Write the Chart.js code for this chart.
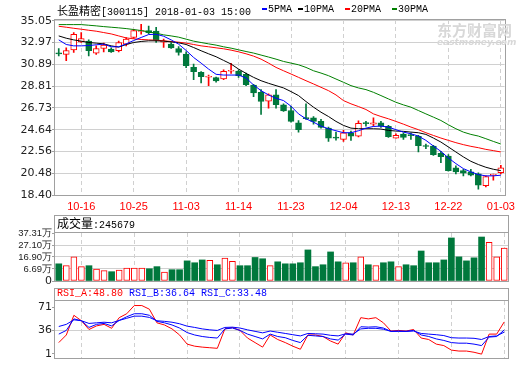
<!DOCTYPE html>
<html>
<head>
<meta charset="utf-8">
<script src="https://cdn.jsdelivr.net/npm/chart.js@4.4.0/dist/chart.umd.min.js"></script>
<style>
  body { margin: 0; background: #fff; }
  #wrap { position: relative; width: 520px; height: 365px; overflow: hidden; }
  .pane { position: absolute; left: 0; width: 520px; }
  .txt { position: absolute; white-space: pre; font-family: "Liberation Mono", monospace; font-size: 10px; line-height: 12px; color: #000; }
  .cjk { font-family: "Noto Sans CJK SC", sans-serif; }
  .mk { display: inline-block; width: 5px; height: 2px; vertical-align: middle; margin-right: 1px; }
</style>
</head>
<body>
<div id="wrap">
  <div class="pane" style="top:0;height:214px"><canvas id="kChart"></canvas></div>
  <div class="pane" style="top:214px;height:74px"><canvas id="volChart"></canvas></div>
  <div class="pane" style="top:288px;height:77px"><canvas id="rsiChart"></canvas></div>

  <div class="txt" style="left:57px;top:4px"><span class="cjk" style="font-size:11px">长盈精密</span>[300115] 2018-01-03 15:00</div>
  <div class="txt" style="left:262px;top:4px"><span class="mk" style="background:#0000ff"></span>5PMA</div>
  <div class="txt" style="left:298px;top:4px"><span class="mk" style="background:#000"></span>10PMA</div>
  <div class="txt" style="left:345px;top:4px"><span class="mk" style="background:#ff0000"></span>20PMA</div>
  <div class="txt" style="left:392px;top:4px"><span class="mk" style="background:#008000"></span>30PMA</div>

  <div class="txt" style="left:437px;top:21px;font-family:'Noto Sans CJK SC';font-weight:bold;font-size:15px;line-height:17px;color:#d8d8d8">东方财富网</div>
  <div class="txt" style="left:437px;top:37px;font-family:'DejaVu Sans';font-style:italic;font-weight:bold;font-size:9px;line-height:10px;color:#d8d8d8">eastmoney.com</div>

  <div class="txt" style="left:57px;top:216px;line-height:14px"><span class="cjk" style="font-size:12px">成交量</span>:245679</div>
  <div class="txt" id="volZero" style="left:45px;top:275px;font-family:'DejaVu Sans';font-size:11px;color:#222">0</div>
  <div class="txt" style="left:57px;top:288px"><span style="color:#ff0000">RSI_A:48.80</span> <span style="color:#0000ff">RSI_B:36.64</span> <span style="color:#0000ff">RSI_C:33.48</span></div>
</div>

<script>
// 交易日
const dates = ['10-11','10-12','10-13','10-16','10-17','10-18','10-19','10-20','10-23','10-24',
  '10-25','10-26','10-27','10-30','10-31','11-01','11-02','11-03','11-06','11-07',
  '11-08','11-09','11-10','11-13','11-14','11-15','11-16','11-17','11-20','11-21',
  '11-22','11-23','11-24','11-27','11-28','11-29','11-30','12-01','12-04','12-05',
  '12-06','12-07','12-08','12-11','12-12','12-13','12-14','12-15','12-18','12-19',
  '12-20','12-21','12-22','12-25','12-26','12-27','12-28','12-29','01-02','01-03'];

// K线
const openP = [31.95,31.83,32.27,33.03,33.10,31.96,32.40,32.34,32.18,32.81,
  33.45,34.02,34.11,34.05,33.00,32.81,32.40,31.86,30.59,30.12,
  29.65,29.61,29.48,30.22,30.24,29.93,28.91,28.21,27.36,27.96,
  27.01,26.47,25.30,25.77,25.77,25.43,24.79,23.87,23.71,24.35,
  24.03,25.26,25.17,25.30,24.95,23.84,24.22,24.11,24.00,23.07,
  23.08,22.38,22.13,20.99,20.73,20.61,20.42,19.28,20.28,20.54];
const highP = [32.40,32.46,33.92,33.92,33.22,32.65,32.91,32.46,33.10,33.45,
  34.24,34.71,34.55,34.43,33.29,32.97,32.59,32.08,30.91,30.18,
  29.86,29.67,30.37,30.97,30.37,30.05,28.98,28.47,28.06,28.47,
  27.11,26.88,25.52,27.11,25.90,25.62,24.89,24.41,24.57,24.51,
  25.49,25.43,25.77,25.43,25.05,24.25,24.35,24.32,24.09,23.26,
  23.14,22.57,22.26,21.18,20.86,20.86,20.51,20.23,20.39,21.24];
const lowP = [31.70,31.23,32.02,32.97,31.70,31.83,32.08,32.02,32.08,32.65,
  33.35,33.76,33.79,32.97,32.49,32.40,31.77,30.56,29.42,29.10,
  28.85,29.17,29.42,30.02,29.64,28.85,27.80,26.09,26.69,26.69,
  26.38,25.36,24.41,25.62,25.17,24.79,23.52,23.65,23.52,23.62,
  23.94,24.98,24.98,24.86,23.90,23.84,23.71,23.71,22.51,22.82,
  22.19,21.49,20.67,20.42,20.23,20.23,18.96,19.18,19.82,20.42];
const closeP = [31.89,32.21,33.76,33.35,32.18,32.40,32.72,32.08,32.97,33.29,
  34.11,34.08,33.92,33.22,33.06,32.46,32.02,30.75,30.18,29.71,
  29.70,29.29,30.21,30.27,29.80,28.94,28.15,27.33,27.96,27.04,
  26.44,25.43,24.64,25.70,25.43,24.86,23.84,23.83,24.35,24.03,
  25.24,25.22,25.30,24.98,23.97,24.09,23.90,24.07,23.11,23.03,
  22.26,22.06,20.73,20.61,20.48,20.29,19.34,20.16,20.32,20.99];

// 均线
const ma5 = [33.22,32.78,32.65,32.65,32.68,32.75,32.81,32.56,32.56,32.84,
  33.16,33.45,33.73,33.76,33.57,33.22,32.81,32.21,31.54,31.00,
  30.43,29.93,29.86,29.86,29.86,29.58,28.91,28.37,27.96,27.64,
  27.42,26.88,26.15,25.68,25.36,24.98,24.73,24.54,24.35,24.35,
  24.54,24.79,24.95,24.98,24.89,24.64,24.41,24.25,24.03,23.62,
  23.08,22.57,21.94,21.40,20.92,20.61,20.35,20.23,20.23,20.29];
const ma10 = [33.60,33.38,33.22,33.10,32.97,32.91,32.84,32.65,32.53,32.78,
  32.97,33.07,33.13,33.13,33.10,33.03,32.94,32.78,32.49,32.18,
  31.89,31.61,31.26,30.91,30.43,30.02,29.64,29.32,29.07,28.85,
  28.63,28.28,27.90,27.33,26.79,26.31,25.90,25.43,25.05,24.79,
  24.73,24.73,24.73,24.70,24.57,24.51,24.48,24.41,24.35,24.19,
  23.84,23.46,22.99,22.51,22.04,21.62,21.31,21.05,20.86,20.73];
const ma20 = [34.52,34.43,34.33,34.24,34.14,34.05,33.92,33.79,33.60,33.41,
  33.32,33.26,33.22,33.19,33.13,33.07,33.00,32.91,32.78,32.65,
  32.56,32.46,32.37,32.24,32.08,31.89,31.67,31.38,31.00,30.59,
  30.27,29.96,29.64,29.32,29.01,28.69,28.37,27.96,27.42,27.11,
  26.85,26.57,26.15,25.90,25.68,25.43,25.17,24.89,24.64,24.35,
  24.09,23.84,23.62,23.40,23.21,23.05,22.92,22.76,22.64,22.51];
const ma30 = [34.68,34.68,34.68,34.68,34.62,34.56,34.49,34.43,34.37,34.30,
  34.21,34.11,33.98,33.86,33.70,33.60,33.48,33.29,33.10,32.97,
  32.84,32.72,32.56,32.43,32.27,32.11,31.96,31.77,31.58,31.38,
  31.16,31.00,30.84,30.59,30.27,30.05,29.80,29.48,29.17,28.85,
  28.63,28.47,28.21,27.90,27.58,27.26,27.01,26.79,26.47,26.15,
  25.84,25.52,25.11,24.73,24.41,24.19,24.03,23.78,23.52,23.27];

// 成交量(万)
const volume = [11.1,9.5,17.0,8.7,9.5,6.6,5.3,4.4,5.8,7.5,
  7.5,7.5,6.9,8.7,4.1,6.1,6.1,13.6,12.0,14.4,
  14.1,10.3,15.9,13.3,9.5,9.5,16.5,15.4,9.5,12.8,
  11.1,11.1,12.0,22.9,8.7,10.3,21.2,12.8,12.0,12.0,
  17.0,10.3,9.5,12.0,12.8,8.7,10.3,9.5,22.0,12.0,
  12.0,14.4,33.1,17.0,13.6,16.2,33.9,29.3,17.0,24.57];

// RSI
const rsiA = [17.8,29.2,58.7,50.5,37.4,42.8,45.1,39.2,55.1,61.0,
  73.3,73.3,67.8,47.4,44.2,38.3,29.2,15.5,12.4,11.0,
  10.1,9.2,38.3,40.5,36.0,24.6,17.8,11.0,29.2,22.4,
  17.8,12.4,7.8,29.2,29.2,26.9,20.1,15.5,32.4,29.2,
  55.1,53.3,55.1,47.4,35.1,36.0,35.1,37.4,24.6,22.4,
  15.5,13.3,6.5,5.1,5.1,3.3,0.5,30.5,30.5,48.80];
const rsiB = [30.5,36.0,53.3,50.5,40.5,45.1,46.5,42.8,51.0,56.5,
  61.0,61.0,58.7,49.6,47.4,44.2,39.6,32.8,29.2,26.9,
  25.5,24.6,38.3,39.6,36.0,30.5,26.9,23.3,30.5,26.9,
  25.1,21.0,17.8,28.7,27.8,26.9,23.3,21.5,30.5,29.2,
  41.5,41.0,41.5,39.6,34.6,35.1,34.6,36.0,29.2,26.9,
  23.3,21.0,17.8,16.9,16.9,15.5,13.3,26.0,26.9,36.64];
const rsiC = [41.9,45.1,51.9,50.5,46.5,47.4,48.3,47.4,51.0,54.2,
  57.4,57.4,55.5,50.5,49.6,48.3,46.0,42.4,40.5,38.3,
  36.9,36.0,40.5,40.9,39.6,36.9,34.6,32.4,35.1,33.3,
  31.5,29.6,27.8,31.5,31.0,30.5,28.7,27.8,31.0,30.5,
  38.3,39.2,39.2,37.8,34.6,34.6,34.6,35.1,31.5,30.5,
  29.6,28.3,25.1,24.6,24.6,24.2,22.4,26.9,27.8,33.48];

// 坐标刻度
const priceTicks = [18.40, 20.48, 22.56, 24.64, 26.73, 28.81, 30.89, 32.97, 35.05];
const volTicks = [-3.52, 6.69, 16.90, 27.10, 37.31];
const volTickLabels = ['', '6.69万', '16.90万', '27.10万', '37.31万'];
const rsiTicks = [1, 36, 71];

const UP = '#ff0000';
const DOWN = '#00783c';
const GRID = '#d0d0d0';
const FRAME = '#a0a0a0';
const LABEL = '#222';
const tickFont = { family: 'DejaVu Sans', size: 11 };

const isUp = closeP.map((c, i) => c >= openP[i]);
const candleColor = isUp.map(u => u ? UP : DOWN);
const candleFill = isUp.map(u => u ? '#fff' : DOWN);

// 边框
const framePlugin = {
    id: 'frame',
    afterDraw(chart, args, opts) {
        const ctx = chart.ctx;
        const a = chart.chartArea;
        const l = Math.round(a.left) - 0.5, r = Math.round(a.right) + 0.5;
        const t = Math.round(a.top) - 0.5, b = Math.round(a.bottom) + 0.5;
        const top = (opts.titleTop !== undefined) ? opts.titleTop + 0.5 : t;
        ctx.save();
        ctx.strokeStyle = FRAME;
        ctx.lineWidth = 1;
        ctx.strokeRect(l, top, r - l, b - top);
        if (opts.titleTop !== undefined) {
            ctx.beginPath();
            ctx.moveTo(l, t);
            ctx.lineTo(r, t);
            ctx.stroke();
        }
        ctx.restore();
    }
};

function xAxis(showLabels) {
    return {
        offset: true,
        grid: {
            offset: false,
            drawTicks: false,
            color: c => (c.index % 7 === 3) ? GRID : 'transparent'
        },
        border: { display: false, dash: [4, 3] },
        ticks: {
            display: showLabels,
            autoSkip: false,
            maxRotation: 0,
            minRotation: 0,
            padding: 5,
            color: '#ff0000',
            font: { family: 'Liberation Sans', size: 11 },
            callback: (v, i) => (i % 7 === 3) ? dates[i] : ''
        },
        afterFit: s => { s.height = showLabels ? 19 : 0; }
    };
}

function lineSet(data, color) {
    return { type: 'line', data: data, borderColor: color, borderWidth: 1, pointRadius: 0, tension: 0, order: 0 };
}

const common = {
    responsive: true,
    maintainAspectRatio: false,
    animation: false,
    events: []
};

// 主图
new Chart(document.getElementById('kChart'), {
    type: 'bar',
    data: {
        labels: dates,
        datasets: [
            lineSet(ma5, '#0000ff'),
            lineSet(ma10, '#000000'),
            lineSet(ma20, '#ff0000'),
            lineSet(ma30, '#008000'),
            {
                data: openP.map((o, i) => [o, closeP[i]]),
                backgroundColor: candleFill,
                borderColor: candleColor,
                borderWidth: 1,
                borderSkipped: false,
                barThickness: 6,
                minBarLength: 1,
                grouped: false,
                order: 1
            },
            {
                data: lowP.map((l, i) => [l, highP[i]]),
                backgroundColor: candleColor,
                barThickness: 1,
                grouped: false,
                order: 2
            }
        ]
    },
    options: Object.assign({}, common, {
        layout: { padding: { top: 20, right: 12, left: 0, bottom: 0 } },
        plugins: { legend: { display: false }, tooltip: { enabled: false }, frame: {} },
        scales: {
            x: xAxis(true),
            y: {
                min: 18.40,
                max: 35.12,
                afterBuildTicks: s => { s.ticks = priceTicks.map(v => ({ value: v })); },
                grid: { color: GRID, tickLength: 3, tickColor: FRAME },
                border: { display: false },
                ticks: { autoSkip: false, padding: 0, color: LABEL, font: tickFont, callback: v => v.toFixed(2) },
                afterFit: s => { s.width = 55; }
            }
        }
    }),
    plugins: [framePlugin]
});

// 成交量
new Chart(document.getElementById('volChart'), {
    type: 'bar',
    data: {
        labels: dates,
        datasets: [{
            data: volume,
            base: volTicks[0],
            backgroundColor: candleFill,
            borderColor: candleColor,
            borderWidth: isUp.map(u => u ? 1 : 0),
            borderSkipped: false,
            barThickness: 6
        }]
    },
    options: Object.assign({}, common, {
        layout: { padding: { top: 19, right: 12, left: 0, bottom: 7 } },
        plugins: { legend: { display: false }, tooltip: { enabled: false }, frame: { titleTop: 1 } },
        scales: {
            x: xAxis(false),
            y: {
                min: volTicks[0],
                max: volTicks[volTicks.length - 1],
                afterBuildTicks: s => { s.ticks = volTicks.map(v => ({ value: v })); },
                grid: {
                    color: c => (c.index === 0 || c.index === volTicks.length - 1) ? 'transparent' : GRID,
                    tickLength: 3,
                    tickColor: FRAME
                },
                border: { display: false },
                ticks: {
                    autoSkip: false,
                    padding: 0,
                    color: LABEL,
                    font: { family: 'Liberation Sans', size: 9.5 },
                    callback: v => volTickLabels[volTicks.indexOf(v)]
                },
                afterFit: s => { s.width = 55; }
            }
        }
    }),
    plugins: [framePlugin]
});

// RSI
new Chart(document.getElementById('rsiChart'), {
    type: 'line',
    data: {
        labels: dates,
        datasets: [
            lineSet(rsiC, '#0000ff'),
            lineSet(rsiB, '#0000ff'),
            lineSet(rsiA, '#ff0000')
        ]
    },
    options: Object.assign({}, common, {
        layout: { padding: { top: 13, right: 12, left: 0, bottom: 1 } },
        plugins: { legend: { display: false }, tooltip: { enabled: false }, frame: { titleTop: 0 } },
        scales: {
            x: xAxis(false),
            y: {
                min: -5.9,
                max: 80.1,
                afterBuildTicks: s => { s.ticks = rsiTicks.map(v => ({ value: v })); },
                grid: {
                    color: c => (c.tick && c.tick.value === 36) ? GRID : 'transparent',
                    tickLength: 3,
                    tickColor: FRAME
                },
                border: { display: false },
                ticks: { autoSkip: false, padding: 0, color: LABEL, font: tickFont, callback: v => String(v) },
                afterFit: s => { s.width = 55; }
            }
        }
    }),
    plugins: [framePlugin]
});
</script>
</body>
</html>
